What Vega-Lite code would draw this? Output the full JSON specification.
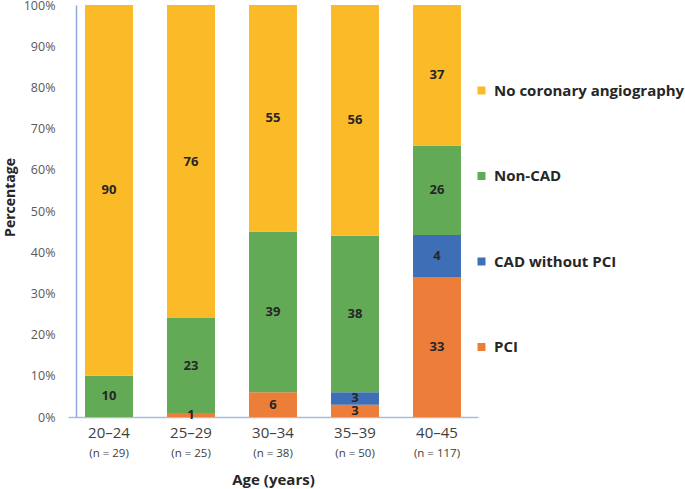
{
  "$schema": "https://vega.github.io/schema/vega-lite/v6.json",
  "width": 410,
  "height": 412,
  "autosize": {"type": "none"},
  "padding": {"left": 68, "top": 5, "right": 207, "bottom": 72},
  "background": "white",
  "config": {
    "view": {"stroke": null},
    "font": "Open Sans",
    "axis": {"grid": false}
  },
  "data": {
    "values": [
      {"age": "20–24", "n": "(n = 29)", "category": "Non-CAD", "value": 10, "label": "10"},
      {"age": "20–24", "n": "(n = 29)", "category": "No coronary angiography", "value": 90, "label": "90"},
      {"age": "25–29", "n": "(n = 25)", "category": "PCI", "value": 1, "label": "1"},
      {"age": "25–29", "n": "(n = 25)", "category": "Non-CAD", "value": 23, "label": "23"},
      {"age": "25–29", "n": "(n = 25)", "category": "No coronary angiography", "value": 76, "label": "76"},
      {"age": "30–34", "n": "(n = 38)", "category": "PCI", "value": 6, "label": "6"},
      {"age": "30–34", "n": "(n = 38)", "category": "Non-CAD", "value": 39, "label": "39"},
      {"age": "30–34", "n": "(n = 38)", "category": "No coronary angiography", "value": 55, "label": "55"},
      {"age": "35–39", "n": "(n = 50)", "category": "PCI", "value": 3, "label": "3"},
      {"age": "35–39", "n": "(n = 50)", "category": "CAD without PCI", "value": 3, "label": "3"},
      {"age": "35–39", "n": "(n = 50)", "category": "Non-CAD", "value": 38, "label": "38"},
      {"age": "35–39", "n": "(n = 50)", "category": "No coronary angiography", "value": 56, "label": "56"},
      {"age": "40–45", "n": "(n = 117)", "category": "PCI", "value": 34, "label": "33"},
      {"age": "40–45", "n": "(n = 117)", "category": "CAD without PCI", "value": 10.2, "label": "4"},
      {"age": "40–45", "n": "(n = 117)", "category": "Non-CAD", "value": 21.7, "label": "26"},
      {"age": "40–45", "n": "(n = 117)", "category": "No coronary angiography", "value": 34.1, "label": "37"}
    ]
  },
  "transform": [
    {"calculate": "indexof(['PCI','CAD without PCI','Non-CAD','No coronary angiography'], datum.category)", "as": "ord"},
    {"stack": "value", "groupby": ["age"], "sort": [{"field": "ord", "order": "ascending"}], "as": ["y0", "y1"]},
    {"calculate": "(datum.y0 + datum.y1) / 2", "as": "ymid"}
  ],
  "resolve": {"axis": {"x": "independent"}},
  "layer": [
    {
      "mark": {"type": "bar"},
      "encoding": {
        "x": {
          "field": "age", "type": "nominal", "sort": null,
          "scale": {"paddingInner": 0.415, "paddingOuter": 0.2075},
          "axis": {
            "orient": "bottom",
            "title": null, "labelAngle": 0, "labelFontSize": 15, "labelColor": "#404040",
            "labelPadding": 8, "ticks": false, "domainColor": "#A9BCDD", "domainWidth": 1.5
          }
        },
        "y": {
          "field": "y0", "type": "quantitative",
          "scale": {"domain": [0, 100], "nice": false},
          "axis": {
            "title": "Percentage", "titleFontSize": 14, "titleFontWeight": "bold", "titleColor": "#262626",
            "titlePadding": 6, "titleY": 192,
            "values": [0, 10, 20, 30, 40, 50, 60, 70, 80, 90, 100],
            "labelExpr": "datum.value + '%'", "labelFontSize": 12.5, "labelColor": "#595959",
            "offset": -8, "labelPadding": 21, "ticks": false, "tickSize": 0,
            "domainColor": "#8FAADC", "domainWidth": 1.5
          }
        },
        "y2": {"field": "y1"},
        "color": {
          "field": "category", "type": "nominal",
          "scale": {
            "domain": ["No coronary angiography", "Non-CAD", "CAD without PCI", "PCI"],
            "range": ["#FBBA27", "#63AA57", "#3E6EB5", "#EC7E3A"]
          },
          "legend": {
            "title": null, "orient": "none", "legendX": 406, "legendY": 78,
            "symbolType": "square", "symbolSize": 64, "symbolStrokeWidth": 0,
            "labelFontSize": 15, "labelFontWeight": "bold", "labelColor": "#262626",
            "labelOffset": 5, "rowPadding": 69.5, "padding": 0, "labelLimit": 300
          }
        }
      }
    },
    {
      "mark": {"type": "text", "fontWeight": "bold", "fontSize": 13, "color": "#262626"},
      "encoding": {
        "x": {"field": "age", "type": "nominal", "sort": null, "axis": null},
        "y": {"field": "ymid", "type": "quantitative"},
        "text": {"field": "label"}
      }
    },
    {
      "mark": {"type": "text", "opacity": 0},
      "encoding": {
        "x": {
          "field": "age", "type": "nominal", "sort": null,
          "axis": {
            "orient": "bottom",
            "title": "Age (years)", "titleFontSize": 15, "titleFontWeight": "bold", "titleColor": "#262626",
            "titlePadding": 14,
            "labelAngle": 0, "labelExpr": "{'20–24':'(n = 29)','25–29':'(n = 25)','30–34':'(n = 38)','35–39':'(n = 50)','40–45':'(n = 117)'}[datum.value]",
            "labelFontSize": 11.5, "labelColor": "#404040", "labelPadding": 30,
            "ticks": false, "domain": false
          }
        },
        "y": {"field": "ymid", "type": "quantitative"},
        "text": {"field": "n"}
      }
    }
  ]
}
